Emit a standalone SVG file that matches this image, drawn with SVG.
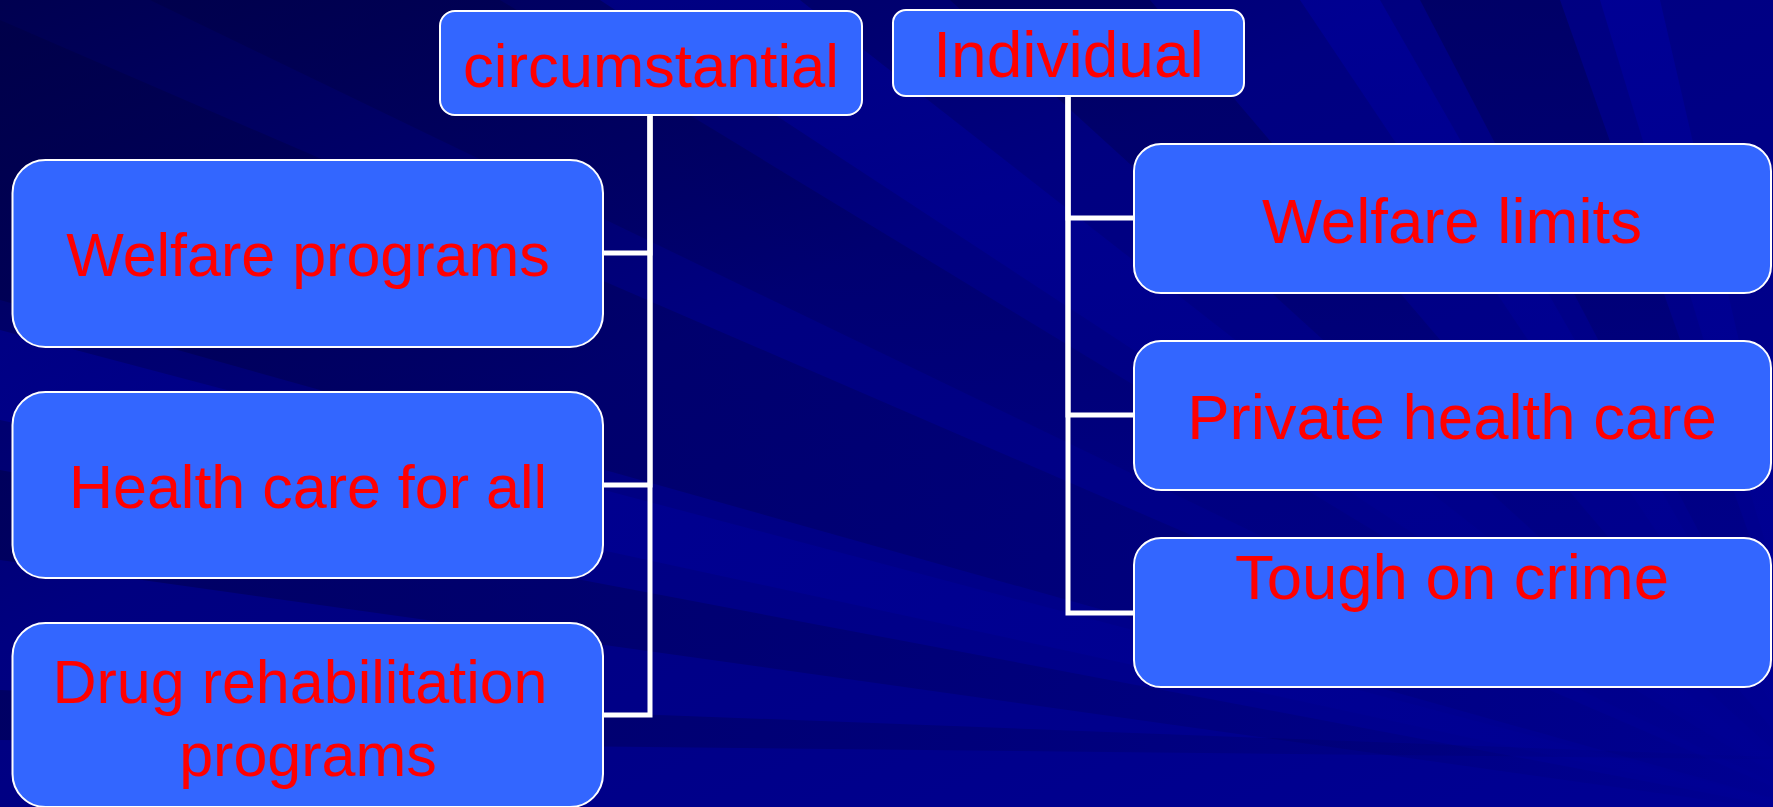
<svg xmlns="http://www.w3.org/2000/svg" width="1773" height="807" viewBox="0 0 1773 807">
  <defs>
    <linearGradient id="bg" x1="0" y1="0" x2="1" y2="1">
      <stop offset="0" stop-color="#000050"/>
      <stop offset="0.4" stop-color="#000080"/>
      <stop offset="1" stop-color="#000094"/>
    </linearGradient>
    <linearGradient id="dkL" x1="0" y1="0" x2="1" y2="0">
      <stop offset="0" stop-color="#000040" stop-opacity="0.45"/>
      <stop offset="0.7" stop-color="#000040" stop-opacity="0.15"/>
      <stop offset="1" stop-color="#000040" stop-opacity="0"/>
    </linearGradient>
    <linearGradient id="ltL" x1="0" y1="0" x2="1" y2="0">
      <stop offset="0" stop-color="#0000B4" stop-opacity="0.35"/>
      <stop offset="0.7" stop-color="#0000B4" stop-opacity="0.12"/>
      <stop offset="1" stop-color="#0000B4" stop-opacity="0"/>
    </linearGradient>
    <linearGradient id="dkT" x1="0" y1="0" x2="0" y2="1">
      <stop offset="0" stop-color="#000040" stop-opacity="0.4"/>
      <stop offset="0.6" stop-color="#000040" stop-opacity="0.1"/>
      <stop offset="1" stop-color="#000040" stop-opacity="0"/>
    </linearGradient>
    <linearGradient id="ltT" x1="0" y1="0" x2="0" y2="1">
      <stop offset="0" stop-color="#0000B4" stop-opacity="0.35"/>
      <stop offset="0.6" stop-color="#0000B4" stop-opacity="0.1"/>
      <stop offset="1" stop-color="#0000B4" stop-opacity="0"/>
    </linearGradient>
    <style>
      .box { fill: #3366FF; stroke: #FFFFFF; stroke-width: 2; }
      .lbl { font-family: "Liberation Sans", Arial, sans-serif; font-size: 61px; fill: #FF0000; text-anchor: middle; }
      .rl { font-size: 63.5px; }
      .con { fill: none; stroke: #FFFFFF; stroke-width: 5; stroke-linejoin: miter; }
    </style>
  </defs>

  <g id="background">
    <rect x="0" y="0" width="1773" height="807" fill="url(#bg)"/>
    <polygon fill="url(#dkL)" points="1850,820 0,20 0,300"/>
    <polygon fill="url(#ltL)" points="1850,820 0,330 0,420"/>
    <polygon fill="url(#dkL)" points="1850,820 0,470 0,560"/>
    <polygon fill="url(#dkL)" points="1850,760 0,690 0,740"/>
    <polygon fill="url(#dkT)" points="1850,820 150,0 500,0"/>
    <polygon fill="url(#ltT)" points="1850,820 600,0 800,0"/>
    <polygon fill="url(#dkT)" points="1850,820 950,0 1150,0"/>
    <polygon fill="url(#ltT)" points="1850,820 1300,0 1380,0"/>
    <polygon fill="url(#dkT)" points="1850,820 1420,0 1560,0"/>
    <polygon fill="url(#ltT)" points="1850,820 1600,0 1660,0"/>
  </g>

  <g id="connectors">
    <path class="con" d="M650,115 V253 H603"/>
    <path class="con" d="M650,115 V485 H603"/>
    <path class="con" d="M650,115 V715 H603"/>
    <path class="con" d="M1068,96 V218 H1134"/>
    <path class="con" d="M1068,96 V415 H1134"/>
    <path class="con" d="M1068,96 V613 H1134"/>
  </g>

  <g id="node-circumstantial">
    <rect class="box" x="440" y="11" width="422" height="104" rx="15" ry="15"/>
    <text class="lbl" x="651" y="87" style="font-size:61.5px">circumstantial</text>
  </g>
  <g id="node-individual">
    <rect class="box" x="893" y="10" width="351" height="86" rx="13" ry="13"/>
    <text class="lbl" x="1068.5" y="77" style="font-size:64px">Individual</text>
  </g>

  <g id="node-welfare-programs">
    <rect class="box" x="12.5" y="160" width="590.5" height="187" rx="33" ry="33"/>
    <text class="lbl" x="308" y="276">Welfare programs</text>
  </g>
  <g id="node-health-care-for-all">
    <rect class="box" x="12.5" y="392" width="590.5" height="186" rx="33" ry="33"/>
    <text class="lbl" x="308" y="508">Health care for all</text>
  </g>
  <g id="node-drug-rehabilitation">
    <rect class="box" x="12.5" y="623" width="590.5" height="184" rx="33" ry="33"/>
    <text class="lbl" x="300" y="703">Drug rehabilitation</text>
    <text class="lbl" x="308" y="776">programs</text>
  </g>

  <g id="node-welfare-limits">
    <rect class="box" x="1134" y="144" width="637" height="149" rx="27" ry="27"/>
    <text class="lbl rl" x="1452" y="243">Welfare limits</text>
  </g>
  <g id="node-private-health-care">
    <rect class="box" x="1134" y="341" width="637" height="149" rx="27" ry="27"/>
    <text class="lbl rl" x="1452" y="439">Private health care</text>
  </g>
  <g id="node-tough-on-crime">
    <rect class="box" x="1134" y="538" width="637" height="149" rx="27" ry="27"/>
    <text class="lbl rl" x="1452" y="599">Tough on crime</text>
  </g>
</svg>
